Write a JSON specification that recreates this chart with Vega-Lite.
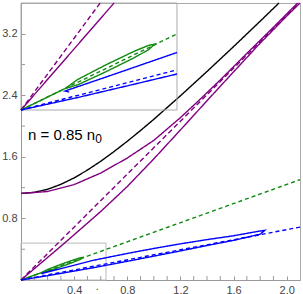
{
  "$schema": "https://vega.github.io/schema/vega-lite/v6.json",
  "width": 279,
  "height": 277,
  "autosize": {"type": "none"},
  "padding": {"left": 21, "top": 3, "right": 3, "bottom": 14},
  "config": {
    "view": {"stroke": "#aaaaaa", "strokeWidth": 1},
    "axis": {"grid": false, "title": null, "domainColor": "#999999", "tickColor": "#999999", "labelColor": "#444444", "labelFont": "Liberation Sans", "labelFontSize": 11, "labelFlush": false, "labelOverlap": false, "tickSize": -4, "labelPadding": 8}
  },
  "datasets": {
    "main": [
      {"s": "black", "g": "k", "o": 0, "x": 0, "y": 1.125},
      {"s": "black", "g": "k", "o": 1, "x": 0.1, "y": 1.139},
      {"s": "black", "g": "k", "o": 2, "x": 0.2, "y": 1.179},
      {"s": "black", "g": "k", "o": 3, "x": 0.3, "y": 1.243},
      {"s": "black", "g": "k", "o": 4, "x": 0.4, "y": 1.327},
      {"s": "black", "g": "k", "o": 5, "x": 0.5, "y": 1.429},
      {"s": "black", "g": "k", "o": 6, "x": 0.6, "y": 1.543},
      {"s": "black", "g": "k", "o": 7, "x": 0.7, "y": 1.669},
      {"s": "black", "g": "k", "o": 8, "x": 0.8, "y": 1.803},
      {"s": "black", "g": "k", "o": 9, "x": 0.9, "y": 1.943},
      {"s": "black", "g": "k", "o": 10, "x": 1.0, "y": 2.089},
      {"s": "black", "g": "k", "o": 11, "x": 1.2, "y": 2.394},
      {"s": "black", "g": "k", "o": 12, "x": 1.4, "y": 2.71},
      {"s": "black", "g": "k", "o": 13, "x": 1.6, "y": 3.033},
      {"s": "black", "g": "k", "o": 14, "x": 1.8, "y": 3.363},
      {"s": "black", "g": "k", "o": 15, "x": 1.942, "y": 3.6},
      {"s": "purple", "g": "pu", "o": 0, "x": 0, "y": 1.125},
      {"s": "purple", "g": "pu", "o": 1, "x": 0.2, "y": 1.15},
      {"s": "purple", "g": "pu", "o": 2, "x": 0.4, "y": 1.24},
      {"s": "purple", "g": "pu", "o": 3, "x": 0.6, "y": 1.39},
      {"s": "purple", "g": "pu", "o": 4, "x": 0.8, "y": 1.585},
      {"s": "purple", "g": "pu", "o": 5, "x": 1.0, "y": 1.815},
      {"s": "purple", "g": "pu", "o": 6, "x": 1.2, "y": 2.11},
      {"s": "purple", "g": "pu", "o": 7, "x": 1.34, "y": 2.335},
      {"s": "purple", "g": "pu", "o": 8, "x": 1.5, "y": 2.6},
      {"s": "purple", "g": "pu", "o": 9, "x": 1.7, "y": 2.945},
      {"s": "purple", "g": "pu", "o": 10, "x": 1.9, "y": 3.285},
      {"s": "purple", "g": "pu", "o": 11, "x": 2.082, "y": 3.6},
      {"s": "purpleDash", "g": "pd", "o": 0, "x": 0, "y": 0},
      {"s": "purpleDash", "g": "pd", "o": 1, "x": 2.093, "y": 3.6},
      {"s": "purple", "g": "pl", "o": 0, "x": 0, "y": 0},
      {"s": "purple", "g": "pl", "o": 1, "x": 0.328, "y": 0.48},
      {"s": "purple", "g": "pl", "o": 2, "x": 0.6, "y": 0.89},
      {"s": "purple", "g": "pl", "o": 3, "x": 0.8, "y": 1.215},
      {"s": "purple", "g": "pl", "o": 4, "x": 1.0, "y": 1.575},
      {"s": "purple", "g": "pl", "o": 5, "x": 1.2, "y": 1.95},
      {"s": "purple", "g": "pl", "o": 6, "x": 1.4, "y": 2.33},
      {"s": "purple", "g": "pl", "o": 7, "x": 1.6, "y": 2.705},
      {"s": "purple", "g": "pl", "o": 8, "x": 1.8, "y": 3.078},
      {"s": "purple", "g": "pl", "o": 9, "x": 2.0, "y": 3.43},
      {"s": "purple", "g": "pl", "o": 10, "x": 2.1, "y": 3.6},
      {"s": "greenDash", "g": "gd", "o": 0, "x": 0, "y": 0},
      {"s": "greenDash", "g": "gd", "o": 1, "x": 2.1, "y": 1.304},
      {"s": "green", "g": "gl", "o": 0, "x": 0, "y": 0},
      {"s": "green", "g": "gl", "o": 1, "x": 0.155, "y": 0.096},
      {"s": "green", "g": "gl", "o": 2, "x": 0.2, "y": 0.137},
      {"s": "green", "g": "gl", "o": 3, "x": 0.3, "y": 0.203},
      {"s": "green", "g": "gl", "o": 4, "x": 0.4, "y": 0.264},
      {"s": "green", "g": "gl", "o": 5, "x": 0.45, "y": 0.29},
      {"s": "green", "g": "gl", "o": 6, "x": 0.472, "y": 0.296},
      {"s": "green", "g": "gl", "o": 7, "x": 0.45, "y": 0.271},
      {"s": "green", "g": "gl", "o": 8, "x": 0.4, "y": 0.235},
      {"s": "green", "g": "gl", "o": 9, "x": 0.3, "y": 0.172},
      {"s": "green", "g": "gl", "o": 10, "x": 0.2, "y": 0.113},
      {"s": "green", "g": "gl", "o": 11, "x": 0.155, "y": 0.096},
      {"s": "green", "g": "gl", "o": 12, "x": 0, "y": 0},
      {"s": "blueDash", "g": "bd", "o": 0, "x": 0, "y": 0},
      {"s": "blueDash", "g": "bd", "o": 1, "x": 2.1, "y": 0.687},
      {"s": "blue", "g": "bl", "o": 0, "x": 0, "y": 0},
      {"s": "blue", "g": "bl", "o": 1, "x": 0.2, "y": 0.056},
      {"s": "blue", "g": "bl", "o": 2, "x": 0.4, "y": 0.116},
      {"s": "blue", "g": "bl", "o": 3, "x": 0.55, "y": 0.1615},
      {"s": "blue", "g": "bl", "o": 4, "x": 0.8, "y": 0.243},
      {"s": "blue", "g": "bl", "o": 5, "x": 1.0, "y": 0.31},
      {"s": "blue", "g": "bl", "o": 6, "x": 1.2, "y": 0.378},
      {"s": "blue", "g": "bl", "o": 7, "x": 1.4, "y": 0.448},
      {"s": "blue", "g": "bl", "o": 8, "x": 1.6, "y": 0.515},
      {"s": "blue", "g": "bl", "o": 9, "x": 1.8, "y": 0.595},
      {"s": "blue", "g": "bl", "o": 10, "x": 1.835, "y": 0.645},
      {"s": "blue", "g": "bl", "o": 11, "x": 1.8, "y": 0.637},
      {"s": "blue", "g": "bl", "o": 12, "x": 1.6, "y": 0.575},
      {"s": "blue", "g": "bl", "o": 13, "x": 1.4, "y": 0.525},
      {"s": "blue", "g": "bl", "o": 14, "x": 1.2, "y": 0.47},
      {"s": "blue", "g": "bl", "o": 15, "x": 1.0, "y": 0.41},
      {"s": "blue", "g": "bl", "o": 16, "x": 0.8, "y": 0.345},
      {"s": "blue", "g": "bl", "o": 17, "x": 0.55, "y": 0.258},
      {"s": "blue", "g": "bl", "o": 18, "x": 0.3, "y": 0.148},
      {"s": "blue", "g": "bl", "o": 19, "x": 0.155, "y": 0.085},
      {"s": "blue", "g": "bl", "o": 20, "x": 0.17, "y": 0.08}
    ],
    "inset": [
      {"s": "purpleDash", "g": "pd", "o": 0, "x": 0, "y": 0},
      {"s": "purpleDash", "g": "pd", "o": 1, "x": 0.2791, "y": 0.48},
      {"s": "purple", "g": "pl", "o": 0, "x": 0, "y": 0},
      {"s": "purple", "g": "pl", "o": 1, "x": 0.328, "y": 0.48},
      {"s": "greenDash", "g": "gd", "o": 0, "x": 0, "y": 0},
      {"s": "greenDash", "g": "gd", "o": 1, "x": 0.55, "y": 0.3416},
      {"s": "green", "g": "gl", "o": 0, "x": 0, "y": 0},
      {"s": "green", "g": "gl", "o": 1, "x": 0.155, "y": 0.096},
      {"s": "green", "g": "gl", "o": 2, "x": 0.2, "y": 0.137},
      {"s": "green", "g": "gl", "o": 3, "x": 0.3, "y": 0.203},
      {"s": "green", "g": "gl", "o": 4, "x": 0.4, "y": 0.264},
      {"s": "green", "g": "gl", "o": 5, "x": 0.45, "y": 0.29},
      {"s": "green", "g": "gl", "o": 6, "x": 0.472, "y": 0.296},
      {"s": "green", "g": "gl", "o": 7, "x": 0.45, "y": 0.271},
      {"s": "green", "g": "gl", "o": 8, "x": 0.4, "y": 0.235},
      {"s": "green", "g": "gl", "o": 9, "x": 0.3, "y": 0.172},
      {"s": "green", "g": "gl", "o": 10, "x": 0.2, "y": 0.113},
      {"s": "green", "g": "gl", "o": 11, "x": 0.155, "y": 0.096},
      {"s": "green", "g": "gl", "o": 12, "x": 0, "y": 0},
      {"s": "blueDash", "g": "bd", "o": 0, "x": 0, "y": 0},
      {"s": "blueDash", "g": "bd", "o": 1, "x": 0.55, "y": 0.18},
      {"s": "blue", "g": "bl1", "o": 0, "x": 0, "y": 0},
      {"s": "blue", "g": "bl1", "o": 1, "x": 0.2, "y": 0.056},
      {"s": "blue", "g": "bl1", "o": 2, "x": 0.4, "y": 0.116},
      {"s": "blue", "g": "bl1", "o": 3, "x": 0.55, "y": 0.1615},
      {"s": "blue", "g": "bl2", "o": 0, "x": 0.55, "y": 0.258},
      {"s": "blue", "g": "bl2", "o": 1, "x": 0.3, "y": 0.148},
      {"s": "blue", "g": "bl2", "o": 2, "x": 0.155, "y": 0.085},
      {"s": "blue", "g": "bl2", "o": 3, "x": 0.17, "y": 0.08}
    ],
    "xminor": [
      {"v": 0.1}, {"v": 0.2}, {"v": 0.3}, {"v": 0.5}, {"v": 0.6}, {"v": 0.7}, {"v": 0.9}, {"v": 1.0}, {"v": 1.1},
      {"v": 1.3}, {"v": 1.4}, {"v": 1.5}, {"v": 1.7}, {"v": 1.8}, {"v": 1.9}
    ],
    "yminor": [
      {"v": 0.4}, {"v": 1.2}, {"v": 2.0}, {"v": 2.8}, {"v": 3.6}
    ]
  },
  "layer": [
    {
      "layer": [
        {
          "data": {"values": [{"x": 0, "x2": 0.64, "y": 0, "y2": 0.48}]},
          "mark": {"type": "rect", "fill": "transparent", "stroke": "#bbbbbb", "strokeWidth": 1},
          "encoding": {
            "x": {"field": "x", "type": "quantitative", "scale": {"domain": [0, 2.1], "nice": false, "zero": false},
              "axis": {"values": [0.4, 0.8, 1.2, 1.6, 2.0], "format": ".1f"}},
            "x2": {"field": "x2"},
            "y": {"field": "y", "type": "quantitative", "scale": {"domain": [0, 3.6], "nice": false, "zero": false},
              "axis": {"values": [0.8, 1.6, 2.4, 3.2], "format": ".1f"}},
            "y2": {"field": "y2"}
          }
        },
        {
          "data": {"name": "xminor"},
          "mark": {"type": "tick", "orient": "vertical", "size": 8, "thickness": 1, "color": "#999999", "opacity": 1, "clip": true},
          "encoding": {
            "x": {"field": "v", "type": "quantitative"},
            "y": {"datum": 0, "type": "quantitative"}
          }
        },
        {
          "data": {"name": "yminor"},
          "mark": {"type": "tick", "orient": "horizontal", "size": 8, "thickness": 1, "color": "#999999", "opacity": 1, "clip": true},
          "encoding": {
            "y": {"field": "v", "type": "quantitative"},
            "x": {"datum": 0, "type": "quantitative"}
          }
        },
        {
          "data": {"name": "main"},
          "mark": {"type": "line", "strokeWidth": 1.4},
          "encoding": {
            "x": {"field": "x", "type": "quantitative"},
            "y": {"field": "y", "type": "quantitative"},
            "detail": {"field": "g"},
            "order": {"field": "o", "type": "quantitative"},
            "color": {"field": "s", "type": "nominal", "legend": null,
              "scale": {"domain": ["black", "purple", "purpleDash", "green", "greenDash", "blue", "blueDash"],
                "range": ["#000000", "#800080", "#800080", "#118a11", "#118a11", "#0000ff", "#0000ff"]}},
            "strokeDash": {"field": "s", "type": "nominal", "legend": null,
              "scale": {"domain": ["black", "purple", "purpleDash", "green", "greenDash", "blue", "blueDash"],
                "range": [[1, 0], [1, 0], [5, 3], [1, 0], [4, 3], [1, 0], [4, 3]]}}
          }
        },
        {
          "data": {"values": [{"x": 0.053, "y": 1.82, "t": "n = 0.85 n"}]},
          "mark": {"type": "text", "align": "left", "baseline": "alphabetic", "fontSize": 15, "font": "Liberation Sans", "color": "#000000"},
          "encoding": {
            "x": {"field": "x", "type": "quantitative"},
            "y": {"field": "y", "type": "quantitative"},
            "text": {"field": "t"}
          }
        },
        {
          "data": {"values": [{"x": 0.558, "y": 1.78, "t": "0"}]},
          "mark": {"type": "text", "align": "left", "baseline": "alphabetic", "fontSize": 12, "font": "Liberation Sans", "color": "#000000"},
          "encoding": {
            "x": {"field": "x", "type": "quantitative"},
            "y": {"field": "y", "type": "quantitative"},
            "text": {"field": "t"}
          }
        },
        {
          "data": {"values": [{"x": 0.574, "y": -0.13, "t": "."}]},
          "mark": {"type": "text", "align": "center", "baseline": "alphabetic", "fontSize": 11, "font": "Liberation Sans", "color": "#444444"},
          "encoding": {
            "x": {"field": "x", "type": "quantitative"},
            "y": {"field": "y", "type": "quantitative"},
            "text": {"field": "t"}
          }
        }
      ]
    },
    {
      "layer": [
        {
          "data": {"values": [{"x": 0, "x2": 0.55, "y": 0, "y2": 0.48}]},
          "mark": {"type": "rect", "fill": "transparent", "stroke": "#aaaaaa", "strokeWidth": 1},
          "encoding": {
            "x": {"field": "x", "type": "quantitative", "scale": {"domain": [0, 0.9837], "nice": false, "zero": false}, "axis": null},
            "x2": {"field": "x2"},
            "y": {"field": "y", "type": "quantitative", "scale": {"domain": [-0.7626, 0.48], "nice": false, "zero": false}, "axis": null},
            "y2": {"field": "y2"}
          }
        },
        {
          "data": {"name": "inset"},
          "mark": {"type": "line", "strokeWidth": 1.4},
          "encoding": {
            "x": {"field": "x", "type": "quantitative"},
            "y": {"field": "y", "type": "quantitative"},
            "detail": {"field": "g"},
            "order": {"field": "o", "type": "quantitative"},
            "color": {"field": "s", "type": "nominal", "legend": null},
            "strokeDash": {"field": "s", "type": "nominal", "legend": null}
          }
        }
      ]
    }
  ],
  "resolve": {"scale": {"x": "independent", "y": "independent"}}
}
